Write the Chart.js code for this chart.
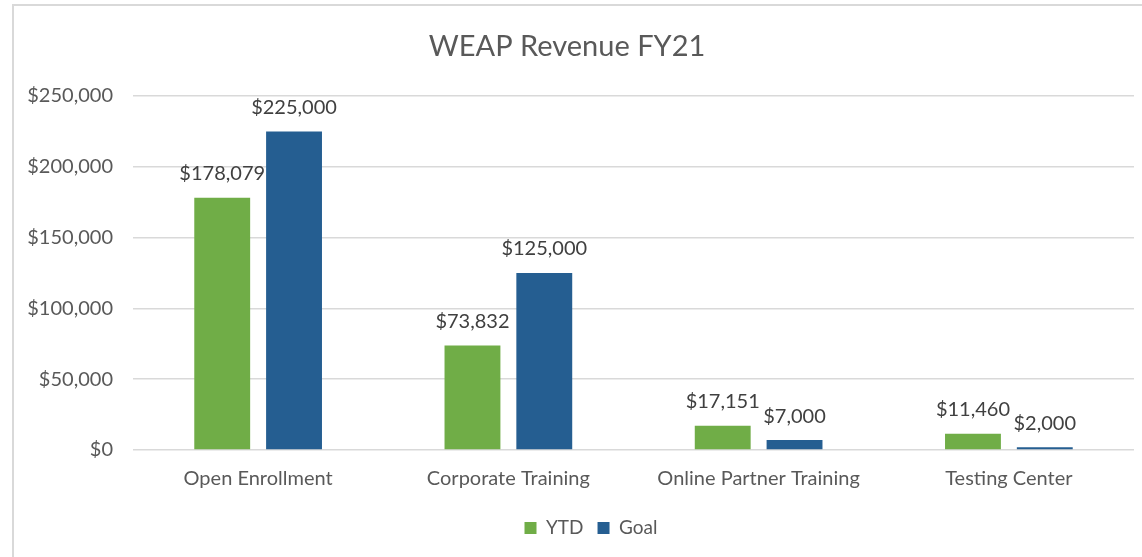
<!DOCTYPE html>
<html>
<head>
<meta charset="utf-8">
<script src="https://cdn.jsdelivr.net/npm/chart.js@4.4.1/dist/chart.umd.min.js"></script>
<style>
  html, body { margin: 0; padding: 0; background: #fff; }
  #wrap { width: 1142px; height: 557px; }
</style>
</head>
<body>
<div id="wrap"><canvas id="grafico" width="1142" height="557"></canvas></div>
<script>
// dados do grafico
const categorias = ['Open Enrollment', 'Corporate Training', 'Online Partner Training', 'Testing Center']
const valoresYTD = [178079, 73832, 17151, 11460]
const valoresGoal = [225000, 125000, 7000, 2000]
const ticksY = [0, 50000, 100000, 150000, 200000, 250000]

const corTexto = '#595959'
const fonte = 'Lato, "Open Sans", sans-serif'

const formatarDolar = (v) => '$' + v.toLocaleString('en-US')

/*
* Rotulos de valor em cima das barras
*/
const rotulosBarras = {
    id: 'rotulosBarras',
    afterDatasetsDraw(chart) {
        const ctx = chart.ctx
        ctx.save()
        ctx.font = '20px ' + fonte
        ctx.fillStyle = '#404040'
        ctx.textAlign = 'center'
        ctx.textBaseline = 'middle'
        chart.data.datasets.forEach((ds, i) => {
            chart.getDatasetMeta(i).data.forEach((barra, j) => {
                ctx.fillText(formatarDolar(ds.data[j]), barra.x, barra.y - 24)
            })
        })
        ctx.restore()
    }
}

// moldura cinza do grafico (lado esquerdo e topo)
const moldura = {
    id: 'moldura',
    beforeDraw(chart) {
        const ctx = chart.ctx
        ctx.save()
        ctx.strokeStyle = '#d9d9d9'
        ctx.lineWidth = 2
        ctx.beginPath()
        ctx.moveTo(13, chart.height + 5)
        ctx.lineTo(13, 5)
        ctx.lineTo(chart.width + 5, 5)
        ctx.stroke()
        ctx.restore()
    }
}

// empurra a legenda um pouco para a direita e para baixo
const ajusteLegenda = {
    id: 'ajusteLegenda',
    afterLayout(chart) {
        const leg = chart.legend
        const dx = 591 - (leg.left + leg.right) / 2
        const dy = 528 - (leg.top + leg.options.labels.padding + 19 / 2)
        leg.left += dx
        leg.right += dx
        leg.top += dy
        leg.bottom += dy
    }
}

const ctx = document.getElementById('grafico').getContext('2d')

const meuGrafico = new Chart(ctx, {
    type: 'bar',
    data: {
        labels: categorias,
        datasets: [
            {
                label: 'YTD',
                data: valoresYTD,
                backgroundColor: '#70AD47'
            },
            {
                label: 'Goal',
                data: valoresGoal,
                backgroundColor: '#255E91'
            }
        ]
    },
    options: {
        responsive: false,
        animation: false,
        categoryPercentage: 0.574,
        barPercentage: 0.778,
        layout: {
            padding: { left: 0, right: 8, top: 0, bottom: 6 }
        },
        plugins: {
            title: {
                display: true,
                text: 'WEAP Revenue FY21',
                color: corTexto,
                font: { family: fonte, size: 29, weight: 'normal' },
                padding: { top: 29.6, bottom: 31.6 }
            },
            legend: {
                display: true,
                position: 'bottom',
                labels: {
                    color: corTexto,
                    font: { family: fonte, size: 19 },
                    boxWidth: 12,
                    boxHeight: 12,
                    padding: 14
                }
            },
            tooltip: { enabled: false }
        },
        scales: {
            x: {
                grid: { display: false, drawTicks: false },
                border: { display: false },
                ticks: {
                    color: corTexto,
                    font: { family: fonte, size: 20 },
                    padding: 17
                }
            },
            y: {
                min: 0,
                max: 250000,
                afterBuildTicks: (escala) => {
                    escala.ticks = ticksY.map(v => ({ value: v }))
                },
                afterFit: (escala) => { escala.width = 133 },
                grid: { color: '#d9d9d9', lineWidth: 1.5, drawTicks: false },
                border: { display: false },
                ticks: {
                    color: corTexto,
                    font: { family: fonte, size: 20 },
                    padding: 20,
                    callback: (v) => formatarDolar(v)
                }
            }
        }
    },
    plugins: [rotulosBarras, moldura, ajusteLegenda]
})
</script>
</body>
</html>
